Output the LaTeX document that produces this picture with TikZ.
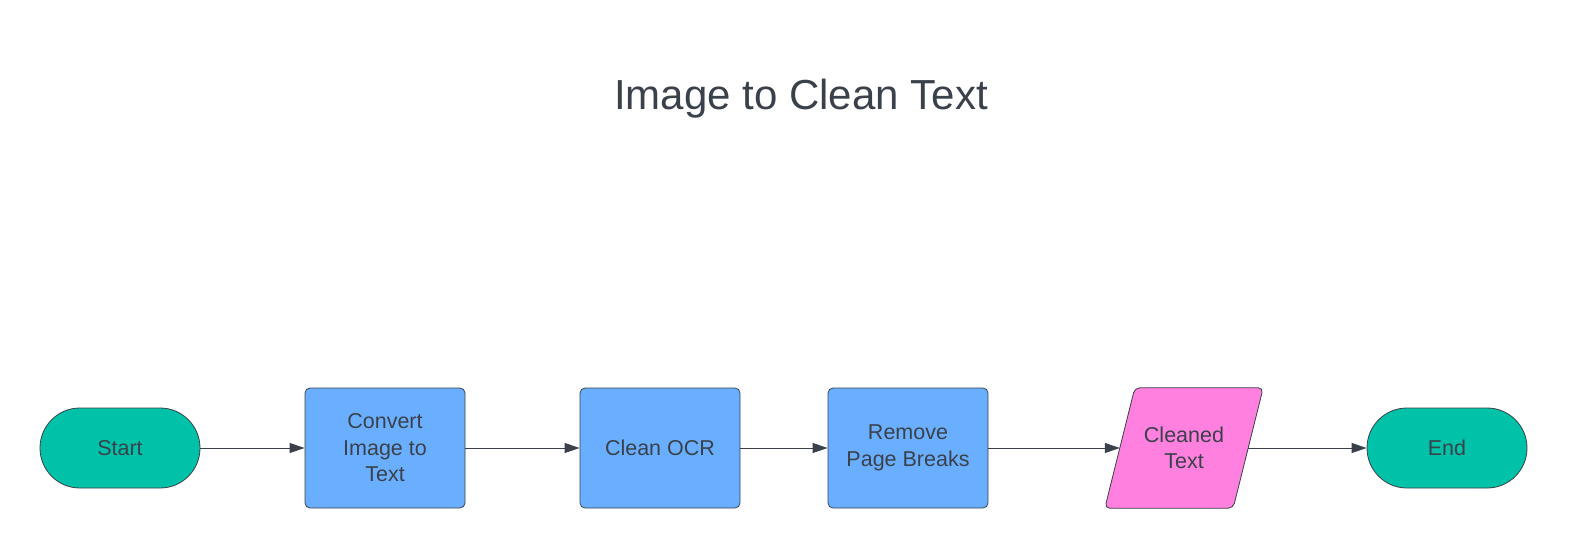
\documentclass[tikz,border=0pt]{standalone}
\usepackage{fontspec}
\setmainfont{Liberation Sans}
\usetikzlibrary{arrows.meta}
\definecolor{ink}{HTML}{3A414A}
\definecolor{termfill}{HTML}{00C2A8}
\definecolor{procfill}{HTML}{6AAFFF}
\definecolor{datafill}{HTML}{FF80DF}
\begin{document}
\begin{tikzpicture}[x=1pt, y=-1pt,
    every node/.style={text=ink, font=\fontsize{21.5}{26.5}\selectfont, align=center},
    term/.style={draw=ink, fill=termfill, line width=0.8pt, minimum width=160pt,
        minimum height=80pt, rounded corners=39.9pt, inner sep=0pt},
    proc/.style={draw=ink, fill=procfill, line width=0.8pt, minimum width=160pt,
        minimum height=120pt, rounded corners=5pt, inner sep=0pt},
    data/.style={minimum width=128pt, minimum height=120pt, inner sep=0pt},
    datashape/.style={draw=ink, fill=datafill, line width=0.8pt, rounded corners=5pt},
    flow/.style={-{Triangle[length=15pt,width=10pt]}, draw=ink, line width=0.8pt}]
    \useasboundingbox (0,0) rectangle (1572,549);

    \node[font=\fontsize{42}{50}\selectfont, anchor=base] (title) at (801,109.5) {Image to Clean Text};

    \node[term] (start) at (120,448) {Start};
    \node[proc] (conv) at (385,448) {Convert\\Image to\\Text};
    \node[proc] (ocr) at (660,448) {Clean OCR};
    \node[proc] (breaks) at (908,448) {Remove\\Page Breaks};
    \node[data] (cleaned) at (1184,448) {};
    \draw[datashape] ([xshift=-15pt]cleaned.south west) -- ([xshift=15pt]cleaned.north west)
        -- ([xshift=15pt]cleaned.north east) -- ([xshift=-15pt]cleaned.south east) -- cycle;
    \node at (cleaned) {Cleaned\\Text};
    \node[term] (stop) at (1447,448) {End};

    \draw[flow] (start) -- (conv);
    \draw[flow] (conv) -- (ocr);
    \draw[flow] (ocr) -- (breaks);
    \draw[flow] (breaks) -- (cleaned);
    \draw[flow] (cleaned) -- (stop);
\end{tikzpicture}
\end{document}
